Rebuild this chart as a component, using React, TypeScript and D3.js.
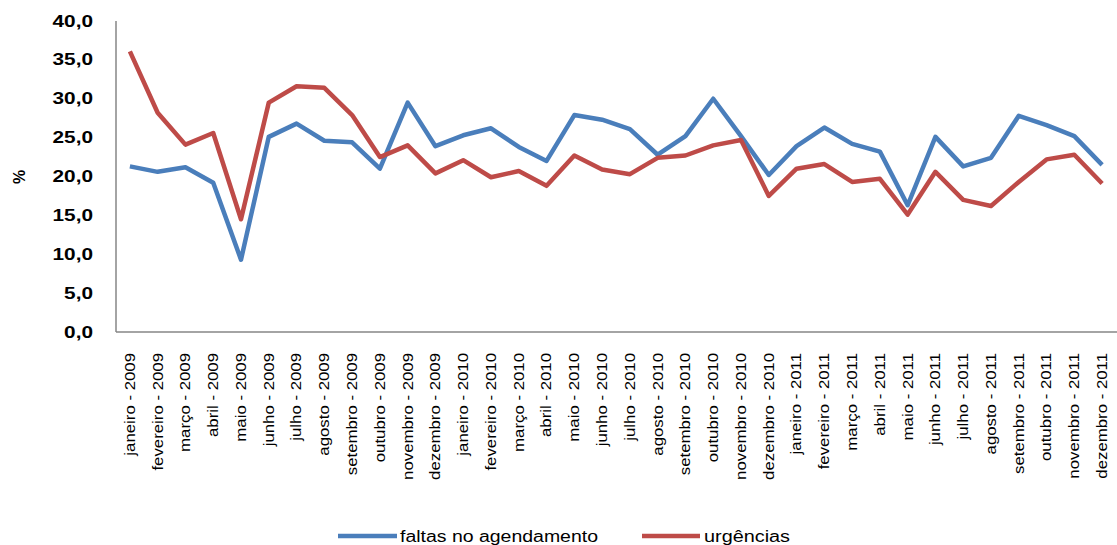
import React from "react";
import * as d3 from "d3";

const months = ["janeiro", "fevereiro", "março", "abril", "maio", "junho", "julho", "agosto", "setembro", "outubro", "novembro", "dezembro"];
const years = ["2009", "2010", "2011"];
const categories: string[] = years.flatMap((y) => months.map((m) => `${m} - ${y}`));

const faltas = [
  21.3, 20.6, 21.2, 19.2, 9.3, 25.1, 26.8, 24.6, 24.4, 21.0, 29.5, 23.9,
  25.3, 26.2, 23.8, 22.0, 27.9, 27.3, 26.1, 22.8, 25.2, 30.0, 25.2, 20.2,
  23.9, 26.3, 24.2, 23.2, 16.3, 25.1, 21.3, 22.4, 27.8, 26.6, 25.2, 21.5,
];
const urgencias = [
  36.1, 28.2, 24.1, 25.6, 14.5, 29.5, 31.6, 31.4, 27.9, 22.5, 24.0, 20.4,
  22.1, 19.9, 20.7, 18.8, 22.7, 20.9, 20.3, 22.4, 22.7, 24.0, 24.7, 17.5,
  21.0, 21.6, 19.3, 19.7, 15.1, 20.6, 17.0, 16.2, 19.3, 22.2, 22.8, 19.1,
];
const yTicks = [0, 5, 10, 15, 20, 25, 30, 35, 40];
const seriesNames = ["faltas no agendamento", "urgências"];
const colors = ["#4A7EBB", "#BE4B48"];

export default function App() {
  const W = 1117, H = 545;
  const left = 116, right = 1116, top = 21, bottom = 332;
  const x = d3.scaleBand<string>().domain(categories).range([left, right]);
  const y = d3.scaleLinear().domain([0, 40]).range([bottom, top]);
  const line = d3
    .line<number>()
    .x((_, i) => (x(categories[i]) as number) + x.bandwidth() / 2)
    .y((d) => y(d));
  const font = "'Liberation Sans', Arial, sans-serif";
  const fmt = (v: number) => v.toFixed(1).replace(".", ",");
  const legY = 536;
  return (
    <svg width={W} height={H} style={{ position: "absolute", left: 0, top: 0 }} fontFamily={font}>
      <rect width={W} height={H} fill="#fff" />
      {yTicks.map((t) => (
        <text
          key={t}
          transform={`translate(93,${y(t)}) scale(1.3,1)`}
          dy="0.35em"
          textAnchor="end"
          fontSize={16}
          fontWeight="bold"
          fill="#000"
        >
          {fmt(t)}
        </text>
      ))}
      <text transform={`translate(19,${177}) rotate(-90)`} textAnchor="middle" dy="0.35em" fontSize={16} fontWeight="bold">
        %
      </text>
      <line x1={left} x2={left} y1={top} y2={bottom} stroke="#868686" strokeWidth={1.5} />
      <line x1={left} x2={W} y1={bottom} y2={bottom} stroke="#868686" strokeWidth={1.5} />
      {categories.map((c) => (
        <text
          key={c}
          transform={`translate(${(x(c) as number) + x.bandwidth() / 2},${bottom + 21}) rotate(-90) scale(1.2,1)`}
          textAnchor="end"
          dy="0.35em"
          fontSize={14}
          fill="#000"
        >
          {c}
        </text>
      ))}
      {[faltas, urgencias].map((s, i) => (
        <path key={i} d={line(s) as string} fill="none" stroke={colors[i]} strokeWidth={4.5} strokeLinejoin="round" />
      ))}
      <line x1={338} x2={397} y1={legY} y2={legY} stroke={colors[0]} strokeWidth={4.5} />
      <text x={400} y={legY} dy="0.35em" fontSize={16} textLength={198} lengthAdjust="spacingAndGlyphs">
        {seriesNames[0]}
      </text>
      <line x1={642} x2={700} y1={legY} y2={legY} stroke={colors[1]} strokeWidth={4.5} />
      <text x={704} y={legY} dy="0.35em" fontSize={16} textLength={86} lengthAdjust="spacingAndGlyphs">
        {seriesNames[1]}
      </text>
    </svg>
  );
}
